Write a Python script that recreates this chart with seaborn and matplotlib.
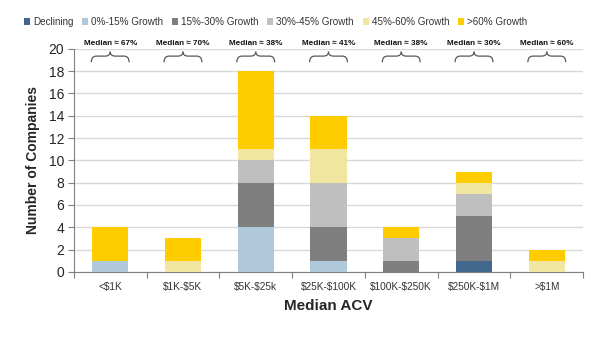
import matplotlib
matplotlib.use("Agg")
import matplotlib.pyplot as plt
from matplotlib.path import Path
from matplotlib.patches import PathPatch, Patch
import seaborn as sns
import pandas as pd
import numpy as np

categories = ["<$1K", "$1K-$5K", "$5K-$25k", "$25K-$100K", "$100K-$250K", "$250K-$1M", ">$1M"]
series_names = ["Declining", "0%-15% Growth", "15%-30% Growth", "30%-45% Growth", "45%-60% Growth", ">60% Growth"]
declining = [0, 0, 0, 0, 0, 1, 0]
growth_0_15 = [1, 0, 4, 1, 0, 0, 0]
growth_15_30 = [0, 0, 4, 3, 1, 4, 0]
growth_30_45 = [0, 0, 2, 4, 2, 2, 0]
growth_45_60 = [0, 1, 1, 3, 0, 1, 1]
growth_60_plus = [3, 2, 7, 3, 1, 1, 1]
medians = ["Median \u2248 67%", "Median \u2248 70%", "Median \u2248 38%", "Median \u2248 41%",
           "Median \u2248 38%", "Median \u2248 30%", "Median \u2248 60%"]
colors = ["#41678C", "#AFC8DA", "#7F7F7F", "#BFBFBF", "#F0E6A0", "#FFCC00"]

series_values = [declining, growth_0_15, growth_15_30, growth_30_45, growth_45_60, growth_60_plus]

sns.set_theme(style="white")
plt.rcParams["font.family"] = ["Liberation Sans", "DejaVu Sans"]
plt.rcParams["text.parse_math"] = False

fig = plt.figure(figsize=(6.10, 3.49), dpi=100)
ax = fig.add_axes([0.121, 0.221, 0.835, 0.639])

bottom = np.zeros(len(categories))
for name, vals, col in zip(series_names, series_values, colors):
    df = pd.DataFrame({"cat": categories, "val": vals})
    sns.barplot(data=df, x="cat", y="val", order=categories, color=col, width=0.5,
                bottom=bottom.copy(), ax=ax, linewidth=0, saturation=1, zorder=3)
    bottom += np.array(vals)

ax.set_ylim(0, 20)
ax.set_xlim(-0.5, len(categories) - 0.5)
ax.set_yticks(range(0, 21, 2))
ax.tick_params(axis="y", labelsize=10, length=4, width=0.8, color="#808080", left=True, pad=3)
ax.yaxis.grid(True, color="#D9D9D9", linewidth=1, zorder=0)
ax.set_axisbelow(True)
ax.set_xticks(range(len(categories)))
ax.set_xticklabels(categories, fontsize=7.3, color="#333333")
ax.tick_params(axis="x", length=0, pad=7)
ax.set_xticks(np.arange(-0.5, len(categories)), minor=True)
ax.tick_params(axis="x", which="minor", length=4, width=0.8, color="#808080", bottom=True)
for s in ["top", "right"]:
    ax.spines[s].set_visible(False)
for s in ["left", "bottom"]:
    ax.spines[s].set_color("#808080")
    ax.spines[s].set_linewidth(0.8)

ax.set_ylabel("Number of Companies", fontsize=10, fontweight="bold", labelpad=6)
ax.set_xlabel("Median ACV", fontsize=11, fontweight="bold", labelpad=5)

# braces
trans = ax.transData
hw = 0.26
y_end, y_mid, y_tip = 18.8, 19.35, 19.75
k = 0.07
for i, txt in enumerate(medians):
    c = i
    l, r = c - hw, c + hw
    p1 = Path([(l, y_end), (l, y_mid), (l + k, y_mid), (c - k, y_mid), (c, y_mid), (c, y_tip)],
              [Path.MOVETO, Path.CURVE3, Path.CURVE3, Path.LINETO, Path.CURVE3, Path.CURVE3])
    p2 = Path([(r, y_end), (r, y_mid), (r - k, y_mid), (c + k, y_mid), (c, y_mid), (c, y_tip)],
              [Path.MOVETO, Path.CURVE3, Path.CURVE3, Path.LINETO, Path.CURVE3, Path.CURVE3])
    for p in (p1, p2):
        ax.add_patch(PathPatch(p, facecolor="none", edgecolor="#595959", linewidth=0.9,
                               transform=trans, clip_on=False, zorder=5))
    ax.text(c, 20.45, txt, ha="center", va="center", fontsize=5.9, fontweight="bold",
            color="#111111", clip_on=False)

handles = [Patch(facecolor=c, edgecolor="none") for c in colors]
fig.legend(handles, series_names, loc="center left", bbox_to_anchor=(0.025, 0.937), ncol=6,
           frameon=False, handlelength=0.6, handleheight=0.6,
           handletextpad=0.3, columnspacing=0.9, labelcolor="#333333",
           prop={"size": 7.1})

fig.savefig("out.png", dpi=100)
